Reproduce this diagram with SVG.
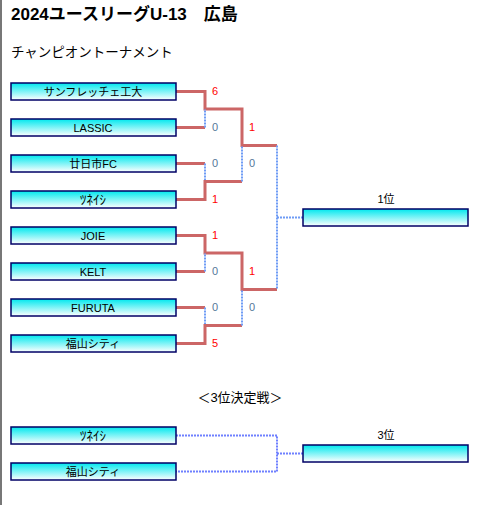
<svg xmlns="http://www.w3.org/2000/svg" width="500" height="505" viewBox="0 0 500 505">
<defs>
<linearGradient id="g" x1="0" y1="0" x2="0" y2="1">
<stop offset="0" stop-color="#00e8ee"/>
<stop offset="1" stop-color="#ffffff"/>
</linearGradient>
</defs>
<style>
text{font-family:"Liberation Sans","Noto Sans CJK JP",sans-serif;fill:#000}
.title{font-size:17px;font-weight:bold}
.sub{font-size:13.5px}
.box{fill:url(#g);stroke:#000066;stroke-width:1.5}
.lbl{font-size:11px;text-anchor:middle}
.hw{font-size:13px}
.w{fill:none;stroke:#cc6666;stroke-width:3}
.l{fill:none;stroke:#6f9cf5;stroke-width:2;stroke-dasharray:2 1}
.l3{fill:none;stroke:#6f80ff;stroke-width:2;stroke-dasharray:2 1}
.sw{font-size:11px;fill:#ff0000}
.sl{font-size:11px;fill:#557799}
</style>
<rect x="0" y="0" width="2" height="505" fill="#777"/>
<text class="title" x="11" y="20">2024ユースリーグU-13　広島</text>
<text class="sub" x="11" y="57">チャンピオントーナメント</text>

<g id="connectors">
<path class="w" d="M176 91.5H205V109H242V145.5H277"/>
<path class="w" d="M176 127.5H205"/>
<path class="l" d="M205 127.5V109"/>
<path class="w" d="M176 163.5H205"/>
<path class="l" d="M205 163.5V181.5"/>
<path class="w" d="M176 199.5H205V181.5H242"/>
<path class="l" d="M242 181.5V145.5"/>
<path class="w" d="M176 235.5H205V253H242V289.5H277"/>
<path class="w" d="M176 271.5H205"/>
<path class="l" d="M205 271.5V253"/>
<path class="w" d="M176 307.5H205"/>
<path class="l" d="M205 307.5V325.5"/>
<path class="w" d="M176 343.5H205V325.5H242"/>
<path class="l" d="M242 325.5V289.5"/>
<path class="l" d="M277 145.5V289.5M277 217.5H303"/>
<path class="l3" d="M176 435.5H277V471.5H176M277 453.5H303"/>
</g>

<g id="scores">
<text class="sw" x="212" y="95">6</text>
<text class="sl" x="212" y="131">0</text>
<text class="sl" x="212" y="167">0</text>
<text class="sw" x="212" y="203">1</text>
<text class="sw" x="212" y="239">1</text>
<text class="sl" x="212" y="275">0</text>
<text class="sl" x="212" y="311">0</text>
<text class="sw" x="212" y="347">5</text>
<text class="sw" x="249" y="131">1</text>
<text class="sl" x="249" y="167">0</text>
<text class="sw" x="249" y="275">1</text>
<text class="sl" x="249" y="311">0</text>
</g>

<g id="t1"><rect class="box" x="11" y="83" width="165" height="17"/><text class="lbl" x="93" y="96">サンフレッチェ工大</text></g>
<g id="t2"><rect class="box" x="11" y="119" width="165" height="17"/><text class="lbl" x="93" y="132">LASSIC</text></g>
<g id="t3"><rect class="box" x="11" y="155" width="165" height="17"/><text class="lbl" x="93" y="168">廿日市FC</text></g>
<g id="t4"><rect class="box" x="11" y="191" width="165" height="17"/><text class="lbl hw" x="93" y="204">ﾂﾈｲｼ</text></g>
<g id="t5"><rect class="box" x="11" y="227" width="165" height="17"/><text class="lbl" x="93" y="240">JOIE</text></g>
<g id="t6"><rect class="box" x="11" y="263" width="165" height="17"/><text class="lbl" x="93" y="276">KELT</text></g>
<g id="t7"><rect class="box" x="11" y="299" width="165" height="17"/><text class="lbl" x="93" y="312">FURUTA</text></g>
<g id="t8"><rect class="box" x="11" y="335" width="165" height="17"/><text class="lbl" x="93" y="348">福山シティ</text></g>

<g id="first"><text class="lbl" x="386" y="203">1位</text><rect class="box" x="303" y="209" width="165" height="17"/></g>

<text x="240" y="402" style="font-size:13px;text-anchor:middle">＜3位決定戦＞</text>

<g id="c1"><rect class="box" x="11" y="427" width="165" height="17"/><text class="lbl hw" x="93" y="440">ﾂﾈｲｼ</text></g>
<g id="c2"><rect class="box" x="11" y="463" width="165" height="17"/><text class="lbl" x="93" y="476">福山シティ</text></g>
<g id="third"><text class="lbl" x="386" y="439">3位</text><rect class="box" x="303" y="445" width="165" height="17"/></g>
</svg>
